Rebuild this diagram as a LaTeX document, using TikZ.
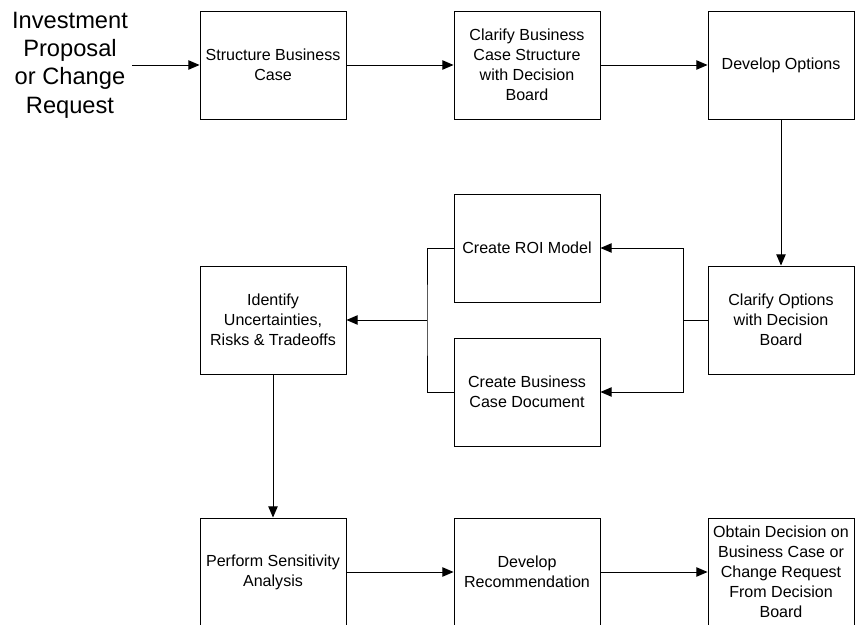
\documentclass[tikz,border=0pt]{standalone}
\usepackage{fontspec}
\setmainfont{Liberation Sans}
\usetikzlibrary{arrows.meta}

\begin{document}
\begin{tikzpicture}[x=0.03cm,y=-0.03cm,line width=0.8pt,
    box/.style={draw,minimum width=4.38cm,minimum height=3.24cm,inner sep=1pt,
      align=center,font=\fontsize{13.7}{17}\selectfont},
    source/.style={align=center,font=\fontsize{20.2}{24.2}\selectfont}]
      \clip (0,0) rectangle (855,625);
      \draw
        (70,65) node[source] (in){Investment\\Proposal\\or Change\\Request}
        (273,65) node[box] (sbc){Structure Business\\Case}
        (527,65) node[box] (cbc){Clarify Business\\Case Structure\\with Decision\\Board}
        (781,65) node[box] (dev){Develop Options}
        (781,320) node[box] (cop){Clarify Options\\with Decision\\Board}
        (527,248) node[box] (roi){Create ROI Model}
        (527,392) node[box] (bcd){Create Business\\Case Document}
        (273,320) node[box] (idu){Identify\\Uncertainties,\\Risks \& Tradeoffs}
        (273,572) node[box] (psa){Perform Sensitivity\\Analysis}
        (527,572) node[box] (drc){Develop\\Recommendation}
        (781,572) node[box] (obt){Obtain Decision on\\Business Case or\\Change Request\\From Decision\\Board};
      \coordinate (jr) at (683,320);
      \coordinate (jl) at (427,320);
      \draw (cop) -- (jr);
      \draw (roi) -| (jl) |- (bcd);
      \begin{scope}[-{Triangle[length=9.5pt,width=8pt]}]
        \draw (in.east |- sbc) -- (sbc);
        \draw (sbc) -- (cbc);
        \draw (cbc) -- (dev);
        \draw (dev) -- (cop);
        \draw (jr) |- (roi);
        \draw (jr) |- (bcd);
        \draw (jl) -- (idu);
        \draw (idu) -- (psa);
        \draw (psa) -- (drc);
        \draw (drc) -- (obt);
      \end{scope}
    \end{tikzpicture}
\end{document}
